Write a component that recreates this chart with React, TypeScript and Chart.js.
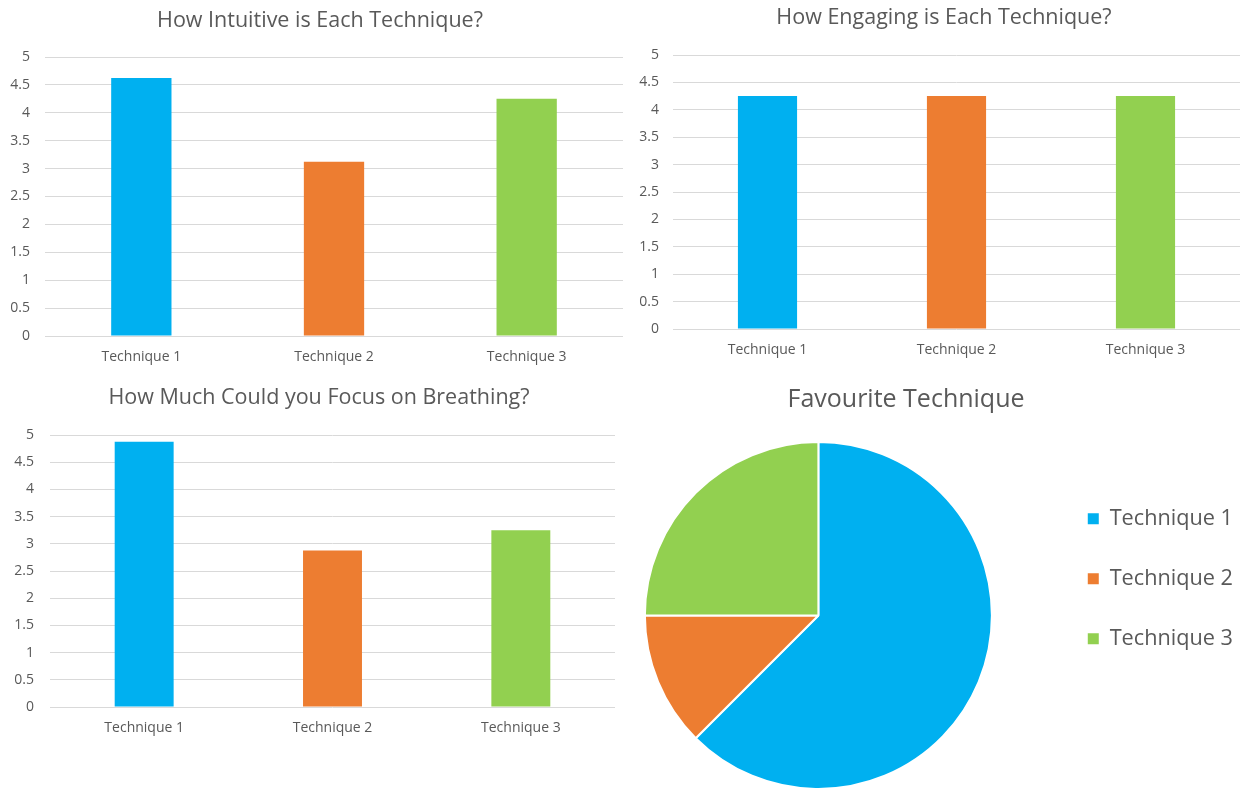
import React, { useEffect, useRef } from 'react';
import { Chart, registerables } from 'chart.js';

Chart.register(...registerables);

const FONT = '"Open Sans", "Noto Sans", sans-serif';
const TEXT = '#595959';
const GRID = '#D9D9D9';

const categories = ['Technique 1', 'Technique 2', 'Technique 3'];
const intuitiveValues = [4.625, 3.125, 4.25];
const engagingValues = [4.25, 4.25, 4.25];
const focusValues = [4.875, 2.875, 3.25];
const favouriteCounts = [5, 1, 2];
const techniqueColors = ['#00B0F0', '#ED7D31', '#92D050'];

const intuitiveTitle = 'How Intuitive is Each Technique?';
const engagingTitle = 'How Engaging is Each Technique?';
const focusTitle = 'How Much Could you Focus on Breathing?';
const favouriteTitle = 'Favourite Technique';

const yMin = 0;
const yMax = 5;
const yStep = 0.5;

type BarLayout = {
  yWidth: number;
  rightGap: number;
  tickPad: number;
  titleTop: number;
  titleBottom: number;
};

function makeBar(canvas: HTMLCanvasElement, title: string, values: number[], L: BarLayout) {
  return new Chart(canvas, {
    type: 'bar',
    data: {
      labels: categories,
      datasets: [
        {
          data: values,
          backgroundColor: techniqueColors,
          borderWidth: 0,
          barPercentage: 0.313,
          categoryPercentage: 1,
          yAxisID: 'y',
        },
      ],
    },
    options: {
      animation: false,
      responsive: false,
      maintainAspectRatio: false,
      events: [],
      layout: { padding: 0 },
      plugins: {
        legend: { display: false },
        tooltip: { enabled: false },
        title: {
          display: true,
          text: title,
          color: TEXT,
          font: { family: FONT, size: 21.5, weight: 'normal' },
          padding: { top: L.titleTop, bottom: L.titleBottom },
        },
      },
      scales: {
        x: {
          grid: { display: false, drawTicks: false },
          border: { display: false },
          ticks: { color: TEXT, font: { family: FONT, size: 14 }, padding: 13 },
          afterFit: (s: any) => {
            s.height = 30;
          },
        },
        y: {
          position: 'left',
          min: yMin,
          max: yMax,
          ticks: {
            stepSize: yStep,
            color: TEXT,
            font: { family: FONT, size: 14 },
            padding: L.tickPad,
            callback: (v: any) => String(Number(v)),
          },
          grid: { color: GRID, drawTicks: false, lineWidth: 1 },
          border: { display: false },
          afterFit: (s: any) => {
            s.width = L.yWidth;
          },
        },
        gap: {
          type: 'linear',
          position: 'right',
          display: true,
          grid: { display: false, drawTicks: false },
          border: { display: false },
          ticks: { display: false },
          afterFit: (s: any) => {
            s.width = L.rightGap;
          },
        },
      },
    } as any,
  });
}

function makePie(canvas: HTMLCanvasElement) {
  const baseGen = (Chart as any).overrides.doughnut.plugins.legend.labels.generateLabels;
  return new Chart(canvas, {
    type: 'pie',
    data: {
      labels: categories,
      datasets: [
        {
          data: favouriteCounts,
          backgroundColor: techniqueColors,
          borderColor: '#FFFFFF',
          borderWidth: 2,
        },
      ],
    },
    options: {
      animation: false,
      responsive: false,
      maintainAspectRatio: false,
      events: [],
      layout: { padding: 0 },
      plugins: {
        tooltip: { enabled: false },
        title: {
          display: true,
          text: favouriteTitle,
          color: TEXT,
          font: { family: FONT, size: 25, weight: 'normal', lineHeight: 1 },
          padding: { top: 1, bottom: 29 },
        },
        legend: {
          position: 'right',
          labels: {
            color: TEXT,
            font: { family: FONT, size: 21.7, lineHeight: 40 / 21.7 },
            boxWidth: 11,
            boxHeight: 11,
            padding: 20,
            generateLabels: (chart: any) =>
              baseGen(chart).map((it: any) => ({
                ...it,
                text: [it.text],
                lineWidth: 0,
                strokeStyle: it.fillStyle,
              })),
          },
        },
      },
    } as any,
  });
}

function ChartCanvas(props: {
  left: number;
  top: number;
  width: number;
  height: number;
  build: (c: HTMLCanvasElement) => Chart;
}) {
  const ref = useRef<HTMLCanvasElement | null>(null);
  useEffect(() => {
    if (!ref.current) return;
    const chart = props.build(ref.current);
    return () => chart.destroy();
  }, []);
  return (
    <canvas
      ref={ref}
      width={props.width}
      height={props.height}
      style={{ position: 'absolute', left: props.left, top: props.top, width: props.width, height: props.height }}
    />
  );
}

export default function App() {
  return (
    <div
      style={{
        position: 'fixed',
        left: 0,
        top: 0,
        width: 1244,
        height: 788,
        background: '#FFFFFF',
        overflow: 'hidden',
      }}
    >
      <ChartCanvas
        left={0}
        top={0}
        width={640}
        height={366}
        build={(c) =>
          makeBar(c, intuitiveTitle, intuitiveValues, {
            yWidth: 45,
            rightGap: 17,
            tickPad: 15,
            titleTop: 7.6,
            titleBottom: 23.6,
          })
        }
      />
      <ChartCanvas
        left={638}
        top={0}
        width={612}
        height={359}
        build={(c) =>
          makeBar(c, engagingTitle, engagingValues, {
            yWidth: 35,
            rightGap: 10,
            tickPad: 14,
            titleTop: 4.6,
            titleBottom: 24.6,
          })
        }
      />
      <ChartCanvas
        left={0}
        top={378}
        width={638}
        height={359}
        build={(c) =>
          makeBar(c, focusTitle, focusValues, {
            yWidth: 50,
            rightGap: 23,
            tickPad: 16,
            titleTop: 6.6,
            titleBottom: 24.6,
          })
        }
      />
      <ChartCanvas left={569} top={386} width={674} height={404} build={(c) => makePie(c)} />
    </div>
  );
}
